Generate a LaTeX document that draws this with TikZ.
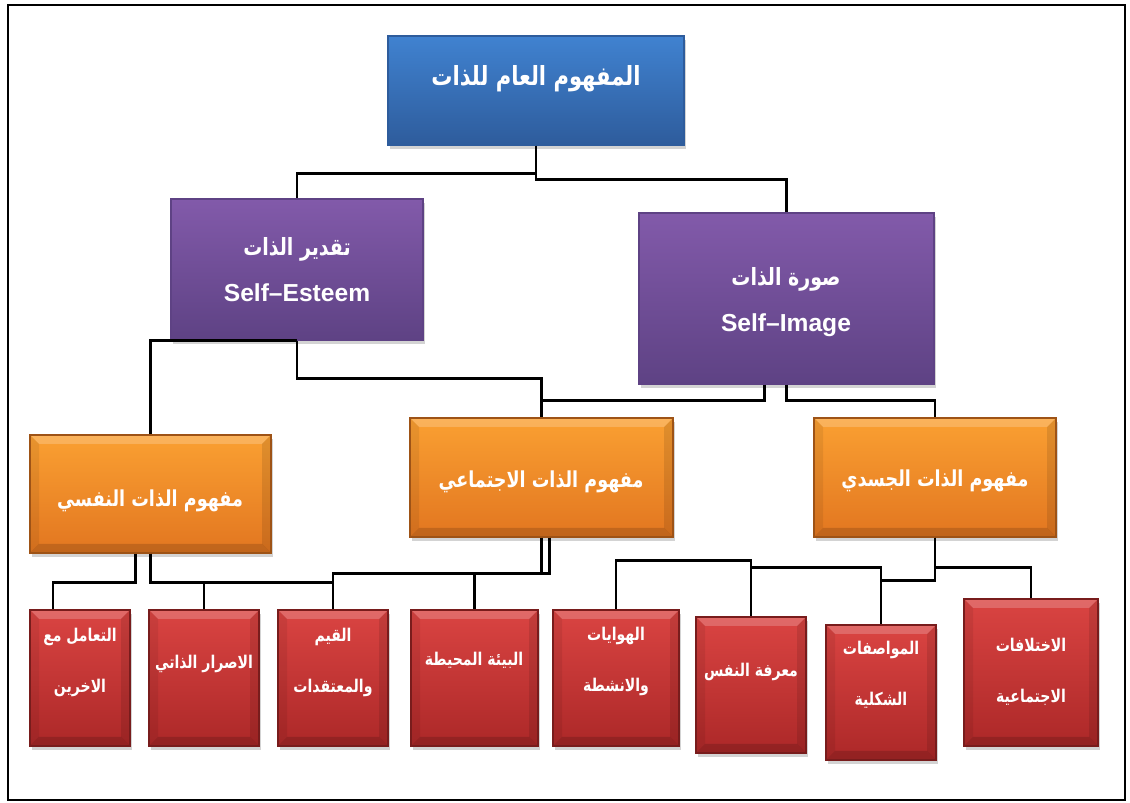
\documentclass[tikz,border=0pt]{standalone}
\usepackage{fontspec}
\setmainfont{Liberation Sans}
\newfontfamily\arabicfont[Script=Arabic,FakeStretch=0.8]{DejaVu Sans}
\TeXXeTstate=1
\usetikzlibrary{fit,calc,shadows}

\definecolor{rootTop}{RGB}{64,130,208}
\definecolor{rootBot}{RGB}{46,92,156}
\definecolor{selfTop}{RGB}{130,90,170}
\definecolor{selfBot}{RGB}{94,66,132}
\definecolor{dimTop}{RGB}{250,160,50}
\definecolor{dimBot}{RGB}{226,118,32}
\definecolor{itemTop}{RGB}{218,68,66}
\definecolor{itemBot}{RGB}{172,40,40}

\begin{document}
\begin{tikzpicture}[x=0.02cm,y=-0.02cm,
  block/.style={inner sep=0pt, draw=#1, line width=0.6pt,
    drop shadow={shadow xshift=1pt,shadow yshift=-2pt,opacity=0.35}},
  bevel/.style={path picture={
    \fill[white,opacity=0.2] (path picture bounding box.north west) -- (path picture bounding box.north east)
      -- ($(path picture bounding box.north east)+(-9,9)$) -- ($(path picture bounding box.north west)+(9,9)$) -- cycle;
    \fill[black,opacity=0.15] (path picture bounding box.south west) -- (path picture bounding box.south east)
      -- ($(path picture bounding box.south east)+(-9,-9)$) -- ($(path picture bounding box.south west)+(9,-9)$) -- cycle;
    \fill[black,opacity=0.07] (path picture bounding box.north west) -- ($(path picture bounding box.north west)+(9,9)$)
      -- ($(path picture bounding box.south west)+(9,-9)$) -- (path picture bounding box.south west) -- cycle;
    \fill[black,opacity=0.1] (path picture bounding box.north east) -- ($(path picture bounding box.north east)+(-9,9)$)
      -- ($(path picture bounding box.south east)+(-9,-9)$) -- (path picture bounding box.south east) -- cycle;}},
  rootbox/.style={block=rootBot, top color=rootTop, bottom color=rootBot},
  selfbox/.style={block=selfBot, top color=selfTop, bottom color=selfBot},
  dimbox/.style={block=dimBot!70!black, top color=dimTop, bottom color=dimBot, bevel},
  itembox/.style={block=itemBot!70!black, top color=itemTop, bottom color=itemBot, bevel},
  rootTxt/.style={text=white, font=\arabicfont\bfseries\fontsize{15}{18}\selectfont},
  selfAr/.style={text=white, font=\arabicfont\bfseries\fontsize{13.5}{16}\selectfont},
  selfEn/.style={text=white, font=\bfseries\fontsize{14}{16}\selectfont},
  dimTxt/.style={text=white, font=\arabicfont\bfseries\fontsize{12.5}{15}\selectfont},
  itemTxt/.style={text=white, align=center, font=\arabicfont\bfseries\fontsize{10}{29}\selectfont},
  conn/.style={draw=black, line width=1.3pt}]
\useasboundingbox (0,0) rectangle (1130,803);
\draw[line width=1.4pt] (8,5) rectangle (1125,800);

% level 1
\node[rootbox, fit={(388,36) (684,145)}] (root) {};
\node[rootTxt] (rootT) at (536,79) {\beginR المفهوم العام للذات\endR};

% level 2
\node[selfbox, fit={(171,199) (423,340)}] (se) {};
\node[selfAr] (seAr) at (297,249) {\beginR تقدير الذات\endR};
\node[selfEn] (seEn) at (297,293) {Self--Esteem};
\node[selfbox, fit={(639,213) (934,384)}] (si) {};
\node[selfAr] (siAr) at (786,279) {\beginR صورة الذات\endR};
\node[selfEn] (siEn) at (786,325) {Self--Image};

% level 3
\node[dimbox, fit={(30,435) (271,553)}] (nafsi) {};
\node[dimTxt] (nafsiT) at (150,501) {\beginR مفهوم الذات النفسي\endR};
\node[dimbox, fit={(410,418) (673,537)}] (ijt) {};
\node[dimTxt] (ijtT) at (541,482) {\beginR مفهوم الذات الاجتماعي\endR};
\node[dimbox, fit={(814,418) (1056,537)}] (jas) {};
\node[dimTxt] (jasT) at (935,481) {\beginR مفهوم الذات الجسدي\endR};

% level 4
\node[itembox, fit={(30,610) (130,746)}] (b1) {};
\node[itemTxt] (b1t) at (80,662) {\beginR التعامل مع\endR\\\beginR الاخرين\endR};
\node[itembox, fit={(149,610) (259,746)}] (b2) {};
\node[itemTxt] (b2t) at (204,664) {\beginR الاصرار الذاتي\endR};
\node[itembox, fit={(278,610) (388,746)}] (b3) {};
\node[itemTxt] (b3t) at (333,662) {\beginR القيم\endR\\\beginR والمعتقدات\endR};
\node[itembox, fit={(411,610) (538,746)}] (b4) {};
\node[itemTxt] (b4t) at (474,660) {\beginR البيئة المحيطة\endR};
\node[itembox, fit={(553,610) (679,746)}] (b5) {};
\node[itemTxt] (b5t) at (616,661) {\beginR الهوايات\endR\\\beginR والانشطة\endR};
\node[itembox, fit={(696,617) (806,753)}] (b6) {};
\node[itemTxt] (b6t) at (751,672) {\beginR معرفة النفس\endR};
\node[itembox, fit={(826,625) (936,760)}] (b7) {};
\node[itemTxt] (b7t) at (881,675) {\beginR المواصفات\endR\\\beginR الشكلية\endR};
\node[itembox, fit={(964,599) (1098,746)}] (b8) {};
\node[itemTxt] (b8t) at (1031,672) {\beginR الاختلافات\endR\\\beginR الاجتماعية\endR};

% connectors
\draw[conn] (root.south) -- ++(0,28) -| (se.north);
\draw[conn] (root.south) -- ++(0,34) -| (si.north);
\draw[conn] (se.south) -| (nafsi.north);
\draw[conn] (se.south) -- ++(0,38) -| (ijt.north);
\draw[conn] ($(si.south)+(-22,0)$) -- ++(0,16) -| (ijt.north);
\draw[conn] (si.south) -- ++(0,16) -| (jas.north);
\draw[conn] ($(nafsi.south)+(-15,0)$) -- ++(0,29) -| ($(b1.north)+(-27,0)$);
\draw[conn] (nafsi.south) -- ++(0,29) -| (b2.north);
\draw[conn] (nafsi.south) -- ++(0,29) -| (b3.north);
\draw[conn] (ijt.south) -- ++(0,36) -| (b3.north);
\draw[conn] ($(ijt.south)+(8,0)$) -- ++(0,36) -| (b4.north);
\draw[conn] (jas.south) -- ++(0,43) -| (b7.north);
\draw[conn] (jas.south) -- ++(0,30) -| (b8.north);
\draw[conn] (jas.south) -- ++(0,43) -| ($(b7.north)+(0,-57)$) -| (b6.north);
\draw[conn] ($(b7.north)+(0,-57)$) -| ($(b6.north)+(0,-56)$) -| (b5.north);
\end{tikzpicture}
\end{document}
